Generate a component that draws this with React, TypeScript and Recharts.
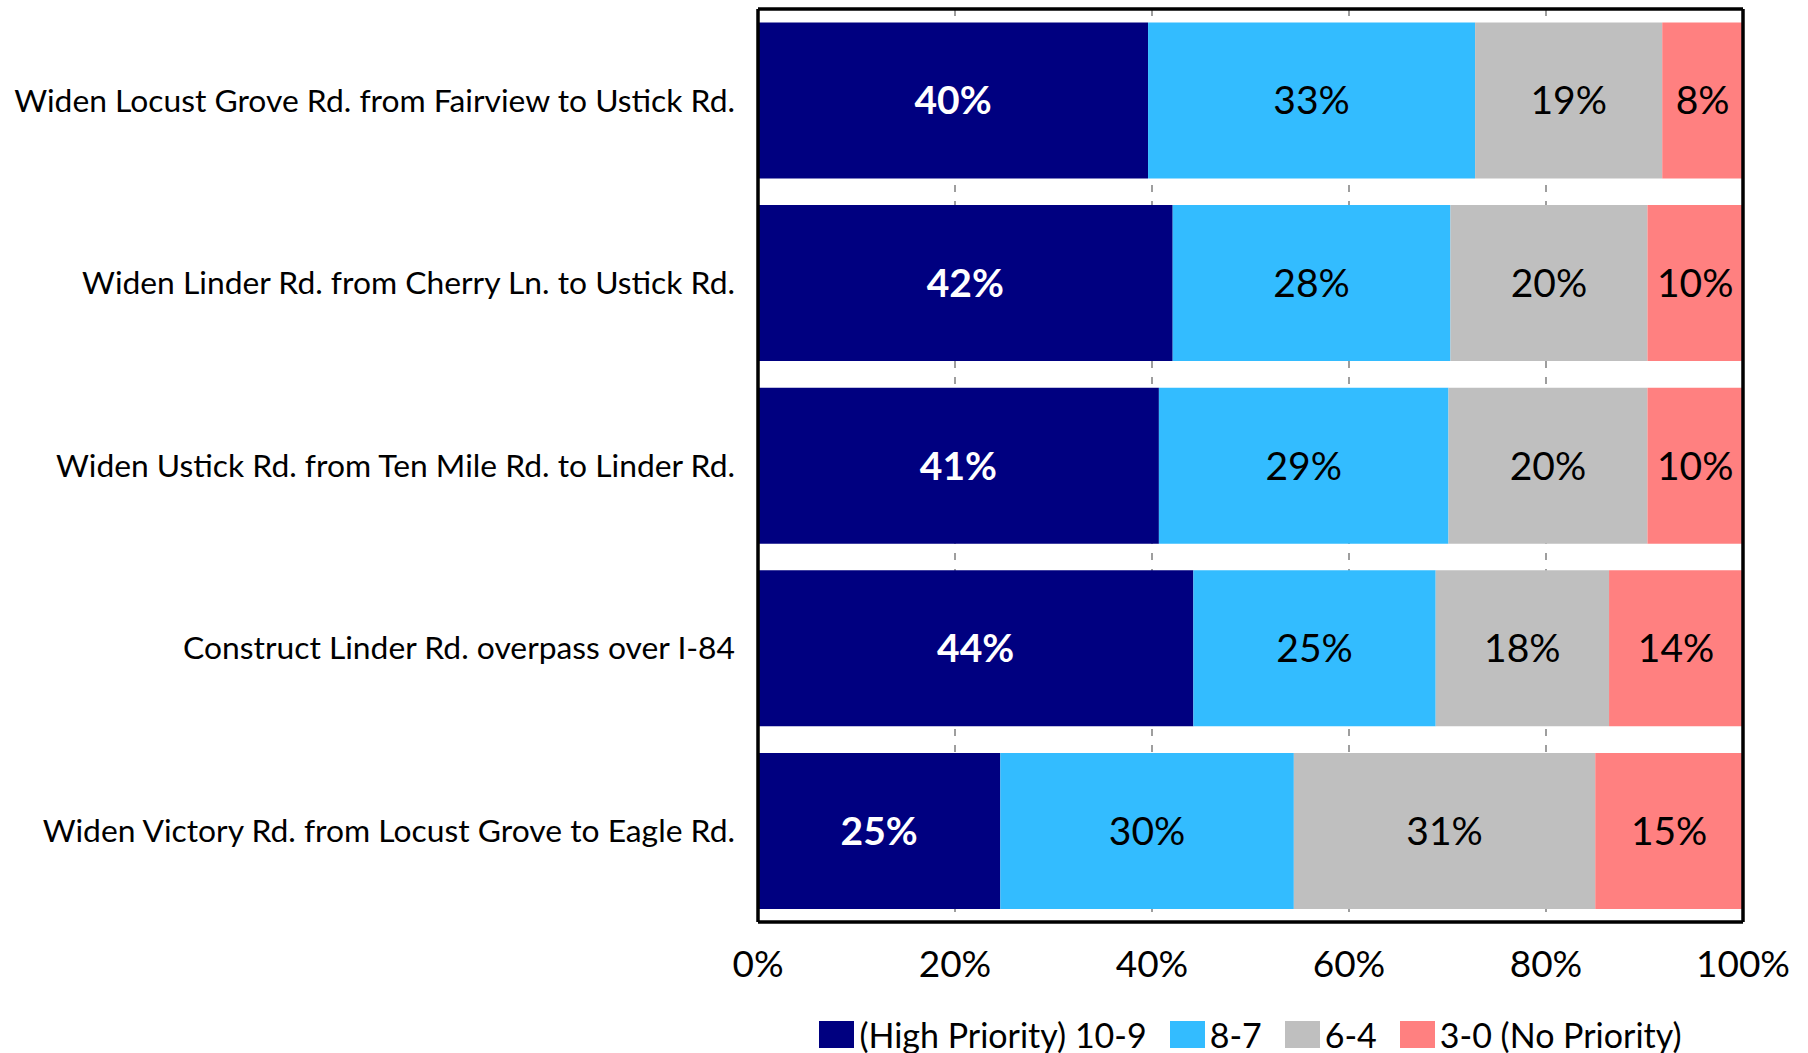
import { Bar, BarChart, CartesianGrid, LabelList, Legend, XAxis, YAxis } from "recharts"

const FONT = "Lato, 'Noto Sans', sans-serif"

const projects = [
  "Widen Locust Grove Rd. from Fairview to Ustick Rd.",
  "Widen Linder Rd. from Cherry Ln. to Ustick Rd.",
  "Widen Ustick Rd. from Ten Mile Rd. to Linder Rd.",
  "Construct Linder Rd. overpass over I-84",
  "Widen Victory Rd. from Locust Grove to Eagle Rd.",
]
const highPriority = [39.6, 42.1, 40.7, 44.2, 24.6]
const score87 = [33.2, 28.2, 29.4, 24.6, 29.8]
const score64 = [19.0, 20.0, 20.2, 17.6, 30.6]
const noPriority = [8.2, 9.7, 9.7, 13.6, 15.0]

const xTicks = [0, 20, 40, 60, 80, 100]
const seriesNames = ["(High Priority) 10-9", "8-7", "6-4", "3-0 (No Priority)"]
const colors = ["#000080", "#33BCFF", "#BFBFBF", "#FF8080"]

const data = projects.map((name, i) => ({
  name,
  high: highPriority[i],
  s87: score87[i],
  s64: score64[i],
  none: noPriority[i],
}))

const pct = (v: any) => `${Math.round(Number(v))}%`

const renderLegend = (props: any) => {
  // keep the series order, recharts sorts the payload by name
  const payload = [...(props.payload || [])].sort(
    (a: any, b: any) => seriesNames.indexOf(a.value) - seriesNames.indexOf(b.value)
  )
  return (
    <div style={{ display: "flex", justifyContent: "center", alignItems: "center", fontFamily: FONT, fontSize: 34, color: "#000", height: 40 }}>
      {payload.map((entry: any, i: number) => (
        <div key={i} style={{ display: "flex", alignItems: "center", marginRight: i < payload.length - 1 ? 23 : 0 }}>
          <span style={{ display: "inline-block", width: 35, height: 27, background: entry.color, marginRight: 5 }} />
          <span>{entry.value}</span>
        </div>
      ))}
    </div>
  )
}

function App() {
  return (
    <div style={{ position: "absolute", left: 0, top: 0, width: 1808, height: 1053, background: "#fff" }}>
      <BarChart
        width={1808}
        height={1053}
        data={data}
        layout="vertical"
        margin={{ top: 8, right: 64, bottom: 31, left: 0 }}
        barCategoryGap="7.4%"
      >
        <CartesianGrid horizontal={false} stroke="#7f7f7f" strokeDasharray="7 9" strokeWidth={1.5} />
        <XAxis
          type="number"
          domain={[0, 100]}
          ticks={xTicks}
          tickFormatter={(v) => `${v}%`}
          height={100}
          tickSize={0}
          tickMargin={29}
          tickLine={false}
          axisLine={{ stroke: "#000", strokeWidth: 3.5 }}
          tick={{ fontSize: 37, fill: "#000", fontFamily: FONT }}
        />
        <XAxis
          xAxisId="top"
          orientation="top"
          type="number"
          domain={[0, 100]}
          height={1}
          tick={false}
          tickLine={false}
          axisLine={{ stroke: "#000", strokeWidth: 3.5 }}
        />
        <YAxis
          type="category"
          dataKey="name"
          width={758}
          tickSize={0}
          tickMargin={23}
          tickLine={false}
          axisLine={{ stroke: "#000", strokeWidth: 3.5 }}
          tick={{ fontSize: 31.8, fill: "#000", fontFamily: FONT }}
        />
        <YAxis
          yAxisId="right"
          orientation="right"
          type="category"
          dataKey="name"
          width={1}
          tick={false}
          tickLine={false}
          axisLine={{ stroke: "#000", strokeWidth: 3.5 }}
        />
        <Legend
          content={renderLegend}
          layout="horizontal"
          verticalAlign="middle"
          align="center"
          width={985}
          wrapperStyle={{ left: 758, top: 1014 }}
        />
        <Bar dataKey="high" name={seriesNames[0]} stackId="a" fill={colors[0]} isAnimationActive={false}>
          <LabelList dataKey="high" position="center" formatter={pct} fill="#fff" fontWeight="bold" fontSize={39} fontFamily={FONT} />
        </Bar>
        <Bar dataKey="s87" name={seriesNames[1]} stackId="a" fill={colors[1]} isAnimationActive={false}>
          <LabelList dataKey="s87" position="center" formatter={pct} fill="#000" fontSize={39} fontFamily={FONT} />
        </Bar>
        <Bar dataKey="s64" name={seriesNames[2]} stackId="a" fill={colors[2]} isAnimationActive={false}>
          <LabelList dataKey="s64" position="center" formatter={pct} fill="#000" fontSize={39} fontFamily={FONT} />
        </Bar>
        <Bar dataKey="none" name={seriesNames[3]} stackId="a" fill={colors[3]} isAnimationActive={false}>
          <LabelList dataKey="none" position="center" formatter={pct} fill="#000" fontSize={39} fontFamily={FONT} />
        </Bar>
      </BarChart>
    </div>
  )
}

export default App
